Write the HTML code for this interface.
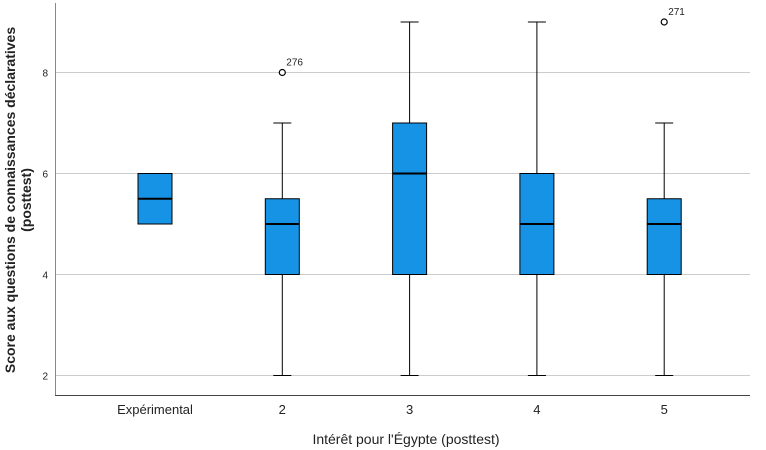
<!DOCTYPE html>
<html><head><meta charset="utf-8"><style>
body{margin:0;background:#fff;}
svg{display:block;font-family:"Liberation Sans",Arial,sans-serif;}
</style></head><body>
<svg id="chart" width="766" height="450" viewBox="0 0 766 450">
<g id="grid"></g>
<g id="yticks"></g>
<line x1="55.5" y1="3" x2="55.5" y2="395.5" stroke="#888" stroke-width="1"/>
<line x1="55" y1="395.5" x2="750" y2="395.5" stroke="#444" stroke-width="1"/>
<g id="boxes"></g>
<g id="xlabels"></g>
<text x="406" y="444" text-anchor="middle" font-size="14" fill="#222">Intérêt pour l'Égypte (posttest)</text>
<text transform="translate(15,200) rotate(-90)" text-anchor="middle" font-size="14" font-weight="bold" fill="#222"><tspan x="0" dy="0">Score aux questions de connaissances déclaratives</tspan><tspan x="0" dy="16">(posttest)</tspan></text>
</svg>
<script>
const categories=["Expérimental","2","3","4","5"];
const mins=[5,2,2,2,2];
const q1s=[5,4,4,4,4];
const medians=[5.5,5,6,5,5];
const q3s=[6,5.5,7,6,5.5];
const maxs=[6,7,9,9,7];
const outlierValues=[null,8,null,null,9];
const outlierLabels=[null,"276",null,null,"271"];
const yTicks=[2,4,6,8];
const NS="http://www.w3.org/2000/svg";
const y=v=>375.5-(v-2)*50.5;
const x=i=>155+i*127.3;
function mk(tag,attrs,parent){const e=document.createElementNS(NS,tag);for(const k in attrs)e.setAttribute(k,attrs[k]);parent.appendChild(e);return e;}
const grid=document.getElementById('grid'),yt=document.getElementById('yticks'),bx=document.getElementById('boxes'),xl=document.getElementById('xlabels');
yTicks.forEach(t=>{
 const l=mk('line',{x1:56,x2:750,y1:y(t),y2:y(t),stroke:'#ccc','stroke-width':1},grid);
 
 
 const tx=mk('text',{x:48,y:y(t)+4,'text-anchor':'end','font-size':10,fill:'#222'},yt);
 tx.textContent=t;
 
 
});
const hw=17;
categories.forEach((c,i)=>{
 const cx=x(i);
 const g=mk('g',{},bx);
 
 
 if(maxs[i]>q3s[i]){mk('line',{x1:cx,x2:cx,y1:y(maxs[i]),y2:y(q3s[i]),stroke:'#000'},g);mk('line',{x1:cx-hw/2-0.5,x2:cx+hw/2+0.5,y1:y(maxs[i]),y2:y(maxs[i]),stroke:'#000'},g);}
 if(mins[i]<q1s[i]){mk('line',{x1:cx,x2:cx,y1:y(q1s[i]),y2:y(mins[i]),stroke:'#000'},g);mk('line',{x1:cx-hw/2-0.5,x2:cx+hw/2+0.5,y1:y(mins[i]),y2:y(mins[i]),stroke:'#000'},g);}
 mk('rect',{x:cx-hw,y:y(q3s[i]),width:hw*2,height:y(q1s[i])-y(q3s[i]),fill:'#1793e6',stroke:'#000','stroke-width':1},g);
 mk('line',{x1:cx-hw,x2:cx+hw,y1:y(medians[i]),y2:y(medians[i]),stroke:'#000','stroke-width':2},g);
 if(outlierValues[i]!=null){
  const o=mk('circle',{cx:cx,cy:y(outlierValues[i]),r:3,fill:'#fff',stroke:'#000','stroke-width':1.2},g);
  
  
  const ot=mk('text',{x:cx+4,y:y(outlierValues[i])-7,'font-size':10,fill:'#222'},g);
  ot.textContent=outlierLabels[i];
 }
 const t=mk('text',{x:cx,y:414,'text-anchor':'middle','font-size':13,fill:'#222'},xl);
 t.textContent=c;
 
 
});
</script>
</body></html>
